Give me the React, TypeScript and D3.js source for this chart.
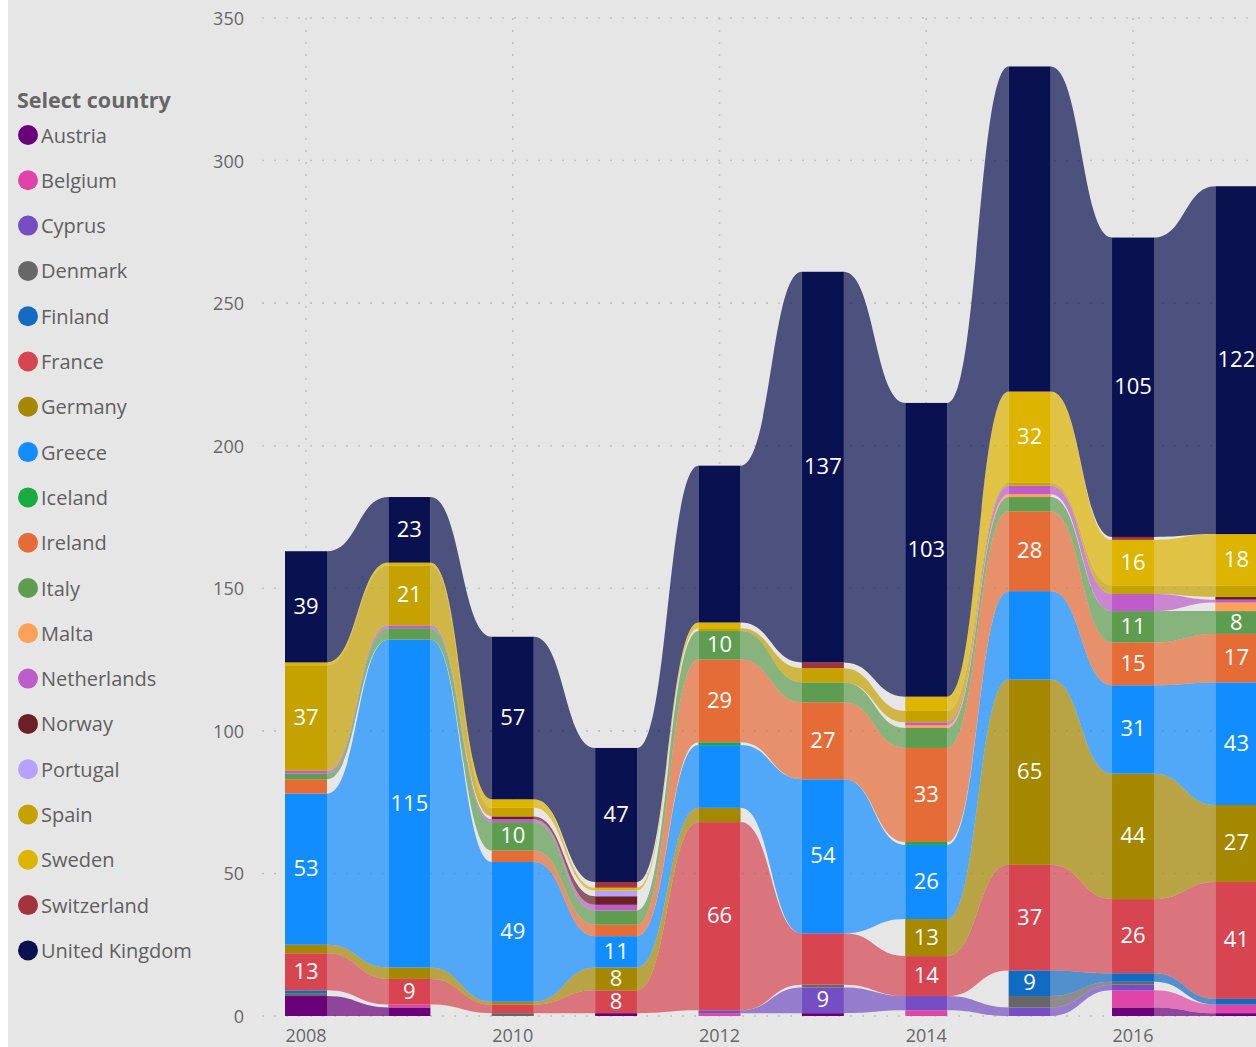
import React from 'react';
import * as d3 from 'd3';

// years shown as bars, and the ones that get an axis label
const years = [2008, 2009, 2010, 2011, 2012, 2013, 2014, 2015, 2016, 2017];
const axisYears = [2008, 2010, 2012, 2014, 2016];
const yTicks = [0, 50, 100, 150, 200, 250, 300, 350];

const countries = [
    'Austria', 'Belgium', 'Cyprus', 'Denmark', 'Finland', 'France', 'Germany', 'Greece',
    'Iceland', 'Ireland', 'Italy', 'Malta', 'Netherlands', 'Norway', 'Portugal', 'Spain',
    'Sweden', 'Switzerland', 'United Kingdom',
];

const colors = [
    '#6B007B', '#E044A7', '#744EC2', '#676767', '#126BC2', '#D64550', '#A58700', '#118DFF',
    '#1AAB40', '#E66C37', '#5E9C4F', '#FFA058', '#BE5DC9', '#6B1F27', '#B5A1FF', '#C6A200',
    '#DDB400', '#A3333D', '#0A1150',
];

// values per year, 2008..2017
const austria = [7, 3, 0, 1, 0, 1, 0, 0, 3, 1];
const belgium = [0, 1, 0, 0, 1, 0, 2, 0, 6, 3];
const cyprus = [0, 0, 0, 0, 1, 9, 5, 3, 2, 0];
const denmark = [1, 0, 1, 0, 0, 1, 0, 4, 1, 0];
const finland = [1, 0, 0, 0, 0, 0, 0, 9, 3, 2];
const france = [13, 9, 3, 8, 66, 18, 14, 37, 26, 41];
const germany = [3, 4, 1, 8, 5, 0, 13, 65, 44, 27];
const greece = [53, 115, 49, 11, 22, 54, 26, 31, 31, 43];
const iceland = [0, 0, 0, 0, 1, 0, 1, 0, 0, 0];
const ireland = [5, 0, 4, 4, 29, 27, 33, 28, 15, 17];
const italy = [2, 4, 10, 5, 10, 7, 7, 5, 11, 8];
const malta = [0, 0, 0, 0, 0, 0, 1, 1, 0, 3];
const netherlands = [1, 1, 1, 2, 0, 0, 1, 3, 6, 1];
const norway = [0, 0, 1, 3, 0, 0, 0, 0, 0, 1];
const portugal = [0, 0, 0, 2, 0, 0, 0, 0, 0, 0];
const spain = [37, 21, 3, 0, 1, 5, 4, 1, 3, 4];
const sweden = [1, 1, 3, 1, 2, 0, 5, 32, 16, 18];
const switzerland = [0, 0, 0, 2, 0, 2, 0, 0, 1, 0];
const unitedKingdom = [39, 23, 57, 47, 55, 137, 103, 114, 105, 122];

const seriesValues = [
    austria, belgium, cyprus, denmark, finland, france, germany, greece, iceland, ireland,
    italy, malta, netherlands, norway, portugal, spain, sweden, switzerland, unitedKingdom,
];

// labels the original hides even though the segment is big enough
const hiddenLabels = ['2012 Greece', '2012 United Kingdom', '2013 France', '2015 Greece', '2015 United Kingdom'];

const FONT = "'Segoe UI', 'Open Sans', sans-serif";

const ribbonPath = (x1: number, x2: number, t0: number, b0: number, t1: number, b1: number) => {
    const p = d3.path();
    const xm = (x1 + x2) / 2;
    p.moveTo(x1, t0);
    p.bezierCurveTo(xm, t0, xm, t1, x2, t1);
    p.lineTo(x2, b1);
    p.bezierCurveTo(xm, b1, xm, b0, x1, b0);
    p.closePath();
    return p.toString();
};

const App = () => {
    const width = 1256;
    const height = 1047;
    const barW = 42;

    const x = d3.scaleLinear().domain([2008, 2017]).range([306, 1236.4]);
    const y = d3.scaleLinear().domain([0, 350]).range([1016, 18]);

    const table = years.map((yr, i) => {
        const row: any = { year: yr };
        countries.forEach((c, k) => { row[c] = seriesValues[k][i]; });
        return row;
    });
    const stacked = d3.stack().keys(countries).order(d3.stackOrderNone)(table);

    const color = d3.scaleOrdinal<string, string>().domain(countries).range(colors);

    return (
        <div style={{ position: 'absolute', left: 0, top: 0 }}>
            <svg width={width} height={height} style={{ display: 'block' }}>
                <rect x={8} y={0} width={width - 8} height={height} fill="#E6E6E6" />

                {/* gridlines */}
                {yTicks.map(t => (
                    <line key={'h' + t} x1={262} x2={width} y1={y(t)} y2={y(t)}
                        stroke="#C2C2C2" strokeWidth={1.6} strokeDasharray="2,10" />
                ))}
                {axisYears.map(yr => (
                    <line key={'v' + yr} x1={x(yr)} x2={x(yr)} y1={y(350)} y2={y(0)}
                        stroke="#C2C2C2" strokeWidth={1.6} strokeDasharray="2,10" />
                ))}

                {/* y axis labels */}
                {yTicks.map(t => (
                    <text key={'yl' + t} x={244} y={y(t)} textAnchor="end" dominantBaseline="central"
                        fontFamily={FONT} fontSize={18} fill="#666">{t}</text>
                ))}
                {axisYears.map(yr => (
                    <text key={'xl' + yr} x={x(yr)} y={1035} textAnchor="middle" dominantBaseline="central"
                        fontFamily={FONT} fontSize={18} fill="#666">{yr}</text>
                ))}

                {/* ribbons */}
                {stacked.map(s => (
                    <g key={'r' + s.key} fill={color(s.key)} fillOpacity={0.7}>
                        {years.slice(0, -1).map((yr, i) => {
                            const a = s[i];
                            const b = s[i + 1];
                            if (a[1] - a[0] <= 0 || b[1] - b[0] <= 0) return null;
                            return (
                                <path key={yr}
                                    d={ribbonPath(x(yr) + barW / 2, x(years[i + 1]) - barW / 2,
                                        y(a[1]), y(a[0]), y(b[1]), y(b[0]))} />
                            );
                        })}
                    </g>
                ))}

                {/* bars */}
                {stacked.map(s => (
                    <g key={'b' + s.key} fill={color(s.key)}>
                        {s.map((d, i) => d[1] - d[0] > 0 ? (
                            <rect key={i} x={x(years[i]) - barW / 2} y={y(d[1])} width={barW}
                                height={y(d[0]) - y(d[1])} />
                        ) : null)}
                    </g>
                ))}

                {/* value labels */}
                {stacked.map(s => s.map((d, i) => {
                    const v = d[1] - d[0];
                    if (v < 8 || hiddenLabels.includes(years[i] + ' ' + s.key)) return null;
                    return (
                        <text key={s.key + i} x={x(years[i])} y={(y(d[0]) + y(d[1])) / 2 - 2}
                            textAnchor="middle" dominantBaseline="central"
                            fontFamily={FONT} fontSize={22} fill="#fff">{v}</text>
                    );
                }))}

                {/* legend */}
                <text x={17} y={99} dominantBaseline="central" fontFamily={FONT} fontSize={21.5}
                    fontWeight="bold" fill="#666">Select country</text>
                {countries.map((c, k) => (
                    <g key={'lg' + c} transform={`translate(0, ${135 + k * 45.3})`}>
                        <circle cx={28} cy={0} r={10} fill={color(c)} />
                        <text x={41} y={0} dominantBaseline="central" fontFamily={FONT}
                            fontSize={20} fill="#5F5F5F">{c}</text>
                    </g>
                ))}
            </svg>
        </div>
    );
};

export default App;
